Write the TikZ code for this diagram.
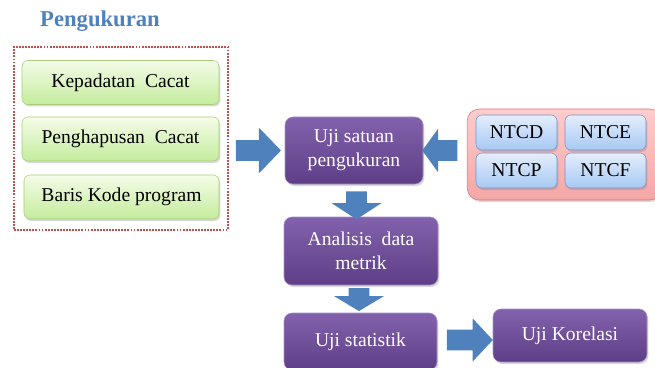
\documentclass[tikz,border=0pt]{standalone}
\usepackage{fontspec}
\setmainfont{Liberation Serif}
\usetikzlibrary{positioning,shapes.arrows,shadows}

\definecolor{titleblue}{HTML}{4F81BD}
\definecolor{arrowblue}{HTML}{4F81BD}
\definecolor{greentop}{HTML}{F4FCE8}
\definecolor{greenbot}{HTML}{C4EC9C}
\definecolor{greenline}{HTML}{A8CC78}
\definecolor{purptop}{HTML}{8262AC}
\definecolor{purpbot}{HTML}{5E3E86}
\definecolor{purpline}{HTML}{A890C8}
\definecolor{bluetop}{HTML}{E4EEFC}
\definecolor{bluebot}{HTML}{A8C8F4}
\definecolor{blueline}{HTML}{6A96D0}
\definecolor{redtop}{HTML}{FFCCCC}
\definecolor{redbot}{HTML}{F5A6A6}
\definecolor{redline}{HTML}{E07070}
\definecolor{dotred}{HTML}{C0504D}

\begin{document}
\begin{tikzpicture}[x=0.75pt, y=-0.75pt,
  box/.style={rounded corners=4.5pt, inner sep=0pt, align=center,
    font=\fontsize{14.7}{18}\selectfont,
    drop shadow={opacity=0.3, shadow xshift=1pt, shadow yshift=-1.5pt}},
  greenbox/.style={box, draw=greenline, top color=greentop, bottom color=greenbot,
    minimum width=147.75pt, minimum height=33pt},
  purplebox/.style={box, rounded corners=6pt, draw=purpline, top color=purptop,
    bottom color=purpbot, text=white},
  ntcbox/.style={box, draw=blueline, top color=bluetop, bottom color=bluebot,
    minimum width=60.75pt, minimum height=26.25pt},
  bigarrow/.style={single arrow, fill=arrowblue, inner xsep=0pt, inner ysep=7.5pt, draw=none},
  downarrow/.style={bigarrow, shape border rotate=270, inner xsep=7.5pt, inner ysep=0pt}]
  \useasboundingbox (0,0) rectangle (655,367);

  % Pengukuran group
  \node[font=\fontsize{17}{20}\selectfont\bfseries, text=titleblue] (title) at (100,21) {Pengukuran};
  \node[draw=dotred, line width=1.6pt, dash pattern=on 1.4pt off 0.9pt, minimum width=160.5pt, minimum height=137.25pt] (frame) at (121,138.5) {};
  \node[greenbox] (kepadatan) at (120.5,82.5) {Kepadatan\ \ Cacat};
  \node[greenbox] (hapus) at (120.5,139) {Penghapusan\ \ Cacat};
  \node[greenbox, minimum width=146.25pt] (baris) at (121.5,197) {Baris Kode program};

  % NTC group
  \node[box, rounded corners=9pt, draw=redline, top color=redtop, bottom color=redbot,
    minimum width=146pt, minimum height=68.25pt] (ntc) at (564.5,154.5) {};
  \node[ntcbox] (ntcd) at (516.5,132.5) {NTCD};
  \node[ntcbox] (ntce) at (605.5,132.5) {NTCE};
  \node[ntcbox] (ntcp) at (516.5,170.5) {NTCP};
  \node[ntcbox] (ntcf) at (605.5,170.5) {NTCF};

  % main flow
  \node[purplebox, minimum width=103.5pt, minimum height=50.25pt] (satuan) at (354,150.5) {Uji satuan\\pengukuran};
  \node[purplebox, minimum width=115.5pt, minimum height=51pt] (analisis) at (361,251) {Analisis\ \ data\\metrik};
  \node[purplebox, minimum width=114.75pt, minimum height=42.75pt] (statistik) at (360.5,341.5) {Uji statistik};
  \node[purplebox, minimum width=115.5pt, minimum height=39.75pt] (korelasi) at (570,335.5) {Uji Korelasi};

  % block arrows
  \node[bigarrow, minimum height=33.75pt, single arrow head extend=9.4pt,
    single arrow tip angle=92] (a1) at (253.5,150.5) {};
  \node[bigarrow, shape border rotate=180, minimum height=26.25pt,
    single arrow head extend=8.6pt, single arrow tip angle=108] (a2) at (443.5,150.5) {};
  \node[downarrow, minimum height=21pt,
    single arrow head extend=10.9pt, single arrow tip angle=114] (a3) at (356.5,202) {};
  \node[downarrow, minimum height=17.25pt,
    single arrow head extend=11pt, single arrow tip angle=118] (a4) at (359,296.5) {};
  \node[bigarrow, minimum height=34.5pt, single arrow head extend=8.6pt,
    single arrow tip angle=94] (a5) at (465,340) {};
\end{tikzpicture}
\end{document}
